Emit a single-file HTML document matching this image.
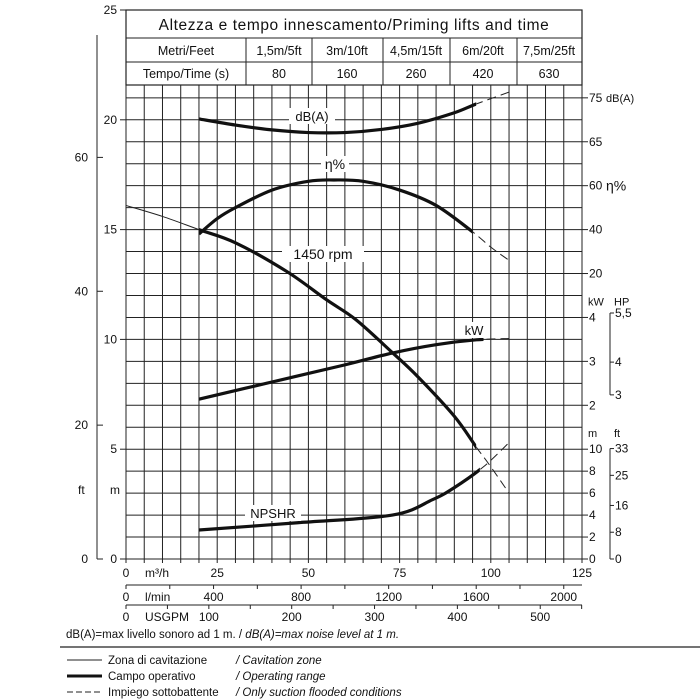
<!DOCTYPE html>
<html><head><meta charset="utf-8"><style>
html,body{margin:0;padding:0;background:#fff;}
svg{display:block;font-family:"Liberation Sans",sans-serif;}
</style></head><body>
<svg id="chart" width="700" height="700" viewBox="0 0 700 700" xmlns="http://www.w3.org/2000/svg">
<g id="grid"></g>
<g id="table" font-size="12.5" fill="#111">
  <rect x="126" y="10" width="456" height="75" fill="#fff" stroke="#222" stroke-width="1.2"/>
  <line x1="126" y1="38" x2="582" y2="38" stroke="#222"/>
  <line x1="126" y1="62" x2="582" y2="62" stroke="#222"/>
  <line x1="246" y1="38" x2="246" y2="85" stroke="#222"/>
  <line x1="312" y1="38" x2="312" y2="85" stroke="#222"/>
  <line x1="383" y1="38" x2="383" y2="85" stroke="#222"/>
  <line x1="450" y1="38" x2="450" y2="85" stroke="#222"/>
  <line x1="517" y1="38" x2="517" y2="85" stroke="#222"/>
  <text x="354" y="30" font-size="15.5" text-anchor="middle" letter-spacing="0.6">Altezza e tempo innescamento/Priming lifts and time</text>
  <g text-anchor="middle">
  <text x="186" y="55">Metri/Feet</text>
  <text x="279" y="55">1,5m/5ft</text><text x="347" y="55">3m/10ft</text><text x="416" y="55">4,5m/15ft</text><text x="483" y="55">6m/20ft</text><text x="549" y="55">7,5m/25ft</text>
  <text x="186" y="78">Tempo/Time (s)</text>
  <text x="279" y="78">80</text><text x="347" y="78">160</text><text x="416" y="78">260</text><text x="483" y="78">420</text><text x="549" y="78">630</text>
  </g>
</g>
<g id="axes" font-size="12" fill="#111" stroke-width="1"></g>
<g id="series"></g>
<g id="notes" font-size="11.5" fill="#111">
  <text x="66" y="638">dB(A)=max livello sonoro ad 1 m. / <tspan font-style="italic">dB(A)=max noise level at 1 m.</tspan></text>
  <line x1="60" y1="647" x2="700" y2="647" stroke="#222" stroke-width="1.2"/>
  <line x1="67" y1="660" x2="102" y2="660" stroke="#222" stroke-width="1"/>
  <text x="108" y="664">Zona di cavitazione</text><text x="236" y="664" font-style="italic">/ Cavitation zone</text>
  <line x1="67" y1="676" x2="102" y2="676" stroke="#111" stroke-width="3"/>
  <text x="108" y="680">Campo operativo</text><text x="236" y="680" font-style="italic">/ Operating range</text>
  <line x1="67" y1="692" x2="102" y2="692" stroke="#222" stroke-width="1" stroke-dasharray="6,3"/>
  <text x="108" y="696">Impiego sottobattente</text><text x="236" y="696" font-style="italic">/ Only suction flooded conditions</text>
</g>
</svg>
<script>
// data arrays
const headQ = [0,10,20,30,44,55,63,73,80,90,96,100,105];
const headH = [16.1,15.6,15,14.4,13.1,11.8,10.9,9.4,8.3,6.5,5.1,4.2,3.0];
const dbQ = [20,30,40,50,60,70,80,90,96,105];
const dbV = [70.2,68.8,67.7,67.1,67.1,67.8,69.2,71.6,73.6,76.3];
const effQ = [20,25,30,40,50,57,65,75,85,95,100,105];
const effV = [38,45,50,58,62,62.6,62,58,51,39,32,26];
const kwQ = [20,40,60,73,85,96,105];
const kwV = [2.14,2.53,2.92,3.19,3.38,3.49,3.52];
const npQ = [20,47,73,84,90,98,105];
const npV = [2.64,3.3,4.0,5.4,6.5,8.4,10.6];
const leftMTicks = [0,5,10,15,20,25];
const leftFtTicks = [0,20,40,60];
const qTicks = [0,25,50,75,100,125];
const lminTicks = [0,400,800,1200,1600,2000];
const gpmTicks = [0,100,200,300,400,500];
const dbTicks = [65,75];
const effTicks = [20,40,60];
const kwTicks = [2,3,4];
const hpTicks = [3,4,5.5];
const npTicks = [0,2,4,6,8,10];
const npFtTicks = [0,8,16,25,33];

const NS='http://www.w3.org/2000/svg';
const X = q => 126 + q*3.648;
const Y = h => 559 - h*21.96;
const dbG = v => 21 - (75 - v)/5;
const effG = v => 13 + (v - 20)/10;
const kwG = v => 7 + (v - 2)*2;
const npG = v => v/2;
const hpG = hp => kwG(hp*0.7457);
const ftG = f => f*0.3048;
function mk(tag, attrs, parent, txt){const e=document.createElementNS(NS,tag);for(const k in attrs)e.setAttribute(k,attrs[k]);if(txt!==undefined)e.textContent=txt;parent.appendChild(e);return e;}

const grid=document.getElementById('grid');
for(let q=0;q<=125;q+=5){const l=mk('line',{x1:X(q),y1:85,x2:X(q),y2:559,stroke:'#222','stroke-width':1},grid);

}
for(let h=0;h<=21;h++){const l=mk('line',{x1:126,y1:Y(h),x2:582,y2:Y(h),stroke:'#222','stroke-width':1},grid);

}

const ax=document.getElementById('axes');
mk('line',{x1:126,y1:10,x2:126,y2:559,stroke:'#222'},ax);
mk('line',{x1:582,y1:85,x2:582,y2:559,stroke:'#222'},ax);
leftMTicks.forEach(v=>{mk('line',{x1:120,y1:Y(v),x2:126,y2:Y(v),stroke:'#222'},ax);
 const t=mk('text',{x:117,y:Y(v)+4,'text-anchor':'end'},ax,String(v));
 
 });
mk('line',{x1:97,y1:35,x2:97,y2:559,stroke:'#222'},ax);
leftFtTicks.forEach(v=>{const y=Y(ftG(v));mk('line',{x1:97,y1:y,x2:103,y2:y,stroke:'#222'},ax);
 const t=mk('text',{x:88,y:y+4,'text-anchor':'end'},ax,String(v));
 
 });
mk('text',{x:78,y:494},ax,'ft');mk('text',{x:110,y:494},ax,'m');
// bottom axes
for(let q=0;q<=125;q+=5)mk('line',{x1:X(q),y1:559,x2:X(q),y2:563,stroke:'#222'},ax);
qTicks.forEach(v=>{const t=mk('text',{x:X(v),y:577,'text-anchor':'middle'},ax,String(v));
 
 });
mk('text',{x:145,y:577},ax,'m³/h');
mk('line',{x1:126,y1:585,x2:582,y2:585,stroke:'#222'},ax);
for(let l=0;l<=2100;l+=200)mk('line',{x1:X(l*0.06),y1:585,x2:X(l*0.06),y2:589,stroke:'#222'},ax);
lminTicks.forEach(v=>{const t=mk('text',{x:X(v*0.06),y:601,'text-anchor':'middle'},ax,String(v));
 
 });
mk('text',{x:145,y:601},ax,'l/min');
mk('line',{x1:126,y1:605,x2:582,y2:605,stroke:'#222'},ax);
for(let g=0;g<=550;g+=50)mk('line',{x1:X(g*0.2271),y1:605,x2:X(g*0.2271),y2:609,stroke:'#222'},ax);
gpmTicks.forEach(v=>{const t=mk('text',{x:X(v*0.2271),y:621,'text-anchor':'middle'},ax,String(v));
 
 });
mk('text',{x:145,y:621},ax,'USGPM');
// right axes
function rt(g,label,name){const y=Y(g);mk('line',{x1:582,y1:y,x2:588,y2:y,stroke:'#222'},ax);
 const t=mk('text',{x:589,y:y+4},ax,label);
 
 }
dbTicks.forEach(v=>rt(dbG(v),String(v),'db-tick'));
effTicks.forEach(v=>rt(effG(v),String(v),'eff-tick'));
kwTicks.forEach(v=>rt(kwG(v),String(v),'kw-tick'));
npTicks.forEach(v=>rt(npG(v),String(v),'npsh-tick'));
mk('text',{x:606,y:Y(21)+4,'font-size':'11'},ax,'dB(A)');
mk('text',{x:606,y:Y(17)+5,'font-size':'14'},ax,'η%');
mk('text',{x:588,y:Y(11)-12,'font-size':'11'},ax,'kW');mk('text',{x:614,y:Y(11)-12,'font-size':'11'},ax,'HP');
mk('text',{x:588,y:Y(5)-12,'font-size':'11'},ax,'m');mk('text',{x:614,y:Y(5)-12,'font-size':'11'},ax,'ft');
mk('line',{x1:610,y1:Y(hpG(5.5)),x2:610,y2:Y(hpG(3)),stroke:'#222'},ax);
hpTicks.forEach(v=>{const y=Y(hpG(v));mk('line',{x1:610,y1:y,x2:614,y2:y,stroke:'#222'},ax);
 const t=mk('text',{x:615,y:y+4},ax,String(v).replace('.',','));
 
 });
mk('line',{x1:610,y1:Y(npG(ftG(33))),x2:610,y2:559,stroke:'#222'},ax);
npFtTicks.forEach(v=>{const y=Y(npG(ftG(v)));mk('line',{x1:610,y1:y,x2:614,y2:y,stroke:'#222'},ax);
 const t=mk('text',{x:615,y:y+4},ax,String(v));
 
 });

// series
const ser=document.getElementById('series');
const defs=mk('defs',{},ser);
function clip(id,x1,x2){const c=mk('clipPath',{id:id},defs);mk('rect',{x:x1,y:0,width:x2-x1,height:700},c);}
function pathD(qs,vs,g){const p=qs.map((q,i)=>[X(q),Y(g(vs[i]))]);let d='M'+p[0][0]+','+p[0][1];
 for(let i=0;i<p.length-1;i++){const p0=p[Math.max(0,i-1)],p1=p[i],p2=p[i+1],p3=p[Math.min(p.length-1,i+2)];
 d+=' C'+(p1[0]+(p2[0]-p0[0])/6)+','+(p1[1]+(p2[1]-p0[1])/6)+' '+(p2[0]-(p3[0]-p1[0])/6)+','+(p2[1]-(p3[1]-p1[1])/6)+' '+p2[0]+','+p2[1];}return d;}
function series(name,qs,vs,g,qEnd){const d=pathD(qs,vs,g);
 clip(name+'-a',0,X(20));clip(name+'-b',X(20),X(qEnd));clip(name+'-c',X(qEnd),700);
 const grp=mk('g',{},ser);
 
 
 mk('path',{d:d,fill:'none',stroke:'#222','stroke-width':1,'clip-path':'url(#'+name+'-a)'},grp);
 mk('path',{d:d,fill:'none',stroke:'#111','stroke-width':3.2,'clip-path':'url(#'+name+'-b)'},grp);
 mk('path',{d:d,fill:'none',stroke:'#222','stroke-width':1,'stroke-dasharray':'9,5','clip-path':'url(#'+name+'-c)'},grp);}
series('head',headQ,headH,v=>v,96);
series('noise',dbQ,dbV,dbG,96);
series('efficiency',effQ,effV,effG,95);
series('power',kwQ,kwV,kwG,98);
series('npshr',npQ,npV,npG,97);
function lab(x,y,w,txt,name,fs){const r=mk('rect',{x:x-w/2,y:y-10,width:w,height:16,fill:'#fff'},ser);
 const t=mk('text',{x:x,y:y+3,'text-anchor':'middle','font-size':fs||13,fill:'#111'},ser,txt);
 
 }
lab(312,118,46,'dB(A)','noise-label');
lab(335,166,28,'η%','efficiency-label',14);
lab(323,256,82,'1450 rpm','rpm-label',14);
lab(474,332,24,'kW','power-label');
lab(273,515,56,'NPSHR','npshr-label');
</script>
</body></html>
